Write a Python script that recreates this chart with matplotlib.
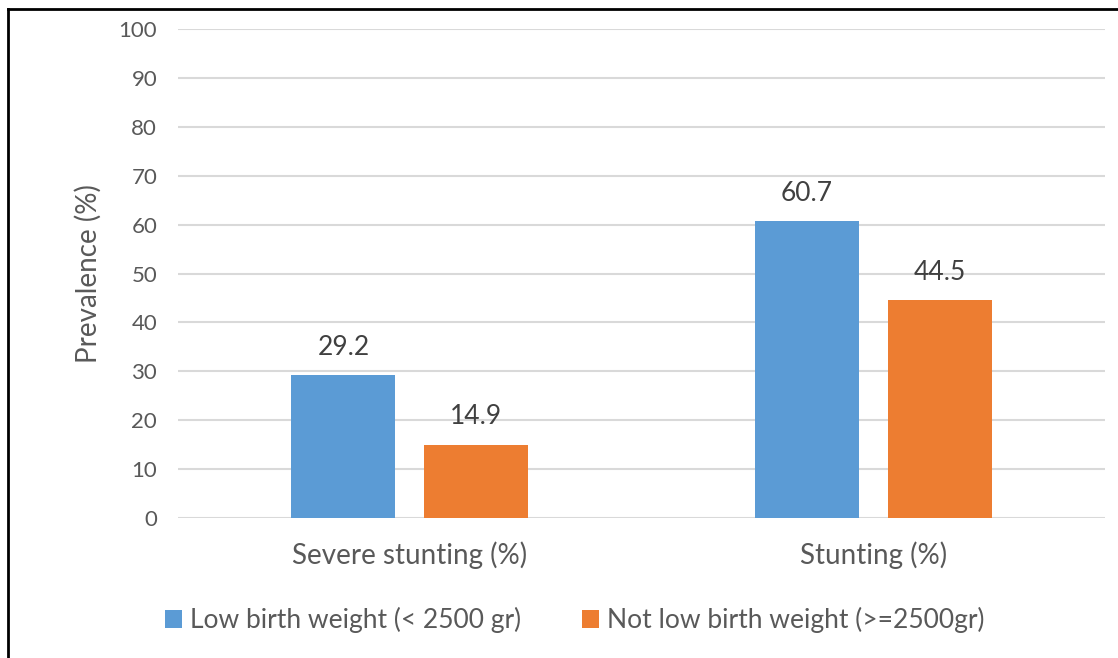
import matplotlib.pyplot as plt
import matplotlib.lines as mlines
import numpy as np

categories = ['Severe stunting (%)', 'Stunting (%)']
series_names = ['Low birth weight (< 2500 gr)', 'Not low birth weight (>=2500gr)']
low_bw = [29.2, 60.7]
not_low_bw = [14.9, 44.5]
colors = ['#5B9BD5', '#ED7D31']
yticks = np.arange(0, 101, 10)

plt.rcParams['font.family'] = ['Lato', 'DejaVu Sans']
text_color = '#595959'

fig = plt.figure(figsize=(11.18, 6.58), dpi=100)
ax = fig.add_axes([178 / 1118, 1 - 518 / 658, 927 / 1118, 489 / 658])

x = np.arange(len(categories))
w = 0.2244
off = 0.143
for vals, c, name, d in [(low_bw, colors[0], series_names[0], -off),
                         (not_low_bw, colors[1], series_names[1], off)]:
    bars = ax.bar(x + d, vals, width=w, color=c, label=name, zorder=3)
    for b, v in zip(bars, vals):
        ax.text(b.get_x() + b.get_width() / 2, v + 3.2, f'{v}', ha='center', va='bottom',
                fontsize=19, color='#404040')

ax.set_xlim(-0.5, 1.5)
ax.set_ylim(0, 100)
ax.set_yticks(yticks)
ax.set_yticklabels([str(t) for t in yticks], fontsize=16, color=text_color)
ax.set_xticks(x)
ax.set_xticklabels(categories, fontsize=20, color=text_color)
ax.tick_params(axis='both', length=0)
ax.tick_params(axis='y', pad=15)
ax.tick_params(axis='x', pad=17)
ax.yaxis.grid(True, color='#d9d9d9', linewidth=1.5, zorder=0)
for s in ax.spines.values():
    s.set_visible(False)
ax.set_ylabel('Prevalence (%)', fontsize=20, color=text_color, labelpad=12)

ax.legend(loc='center', bbox_to_anchor=(0.428, -0.2086), ncol=2, frameon=False,
          fontsize=19, handlelength=0.65, handleheight=0.65, handletextpad=0.3,
          columnspacing=2.3, labelcolor=text_color)

fig.add_artist(mlines.Line2D([8 / 1118, 8 / 1118], [0, 1 - 9 / 658], color='black', linewidth=2,
                             transform=fig.transFigure))
fig.add_artist(mlines.Line2D([8 / 1118, 1], [1 - 9 / 658, 1 - 9 / 658], color='black', linewidth=2,
                             transform=fig.transFigure))

fig.savefig('out.png', dpi=100)
